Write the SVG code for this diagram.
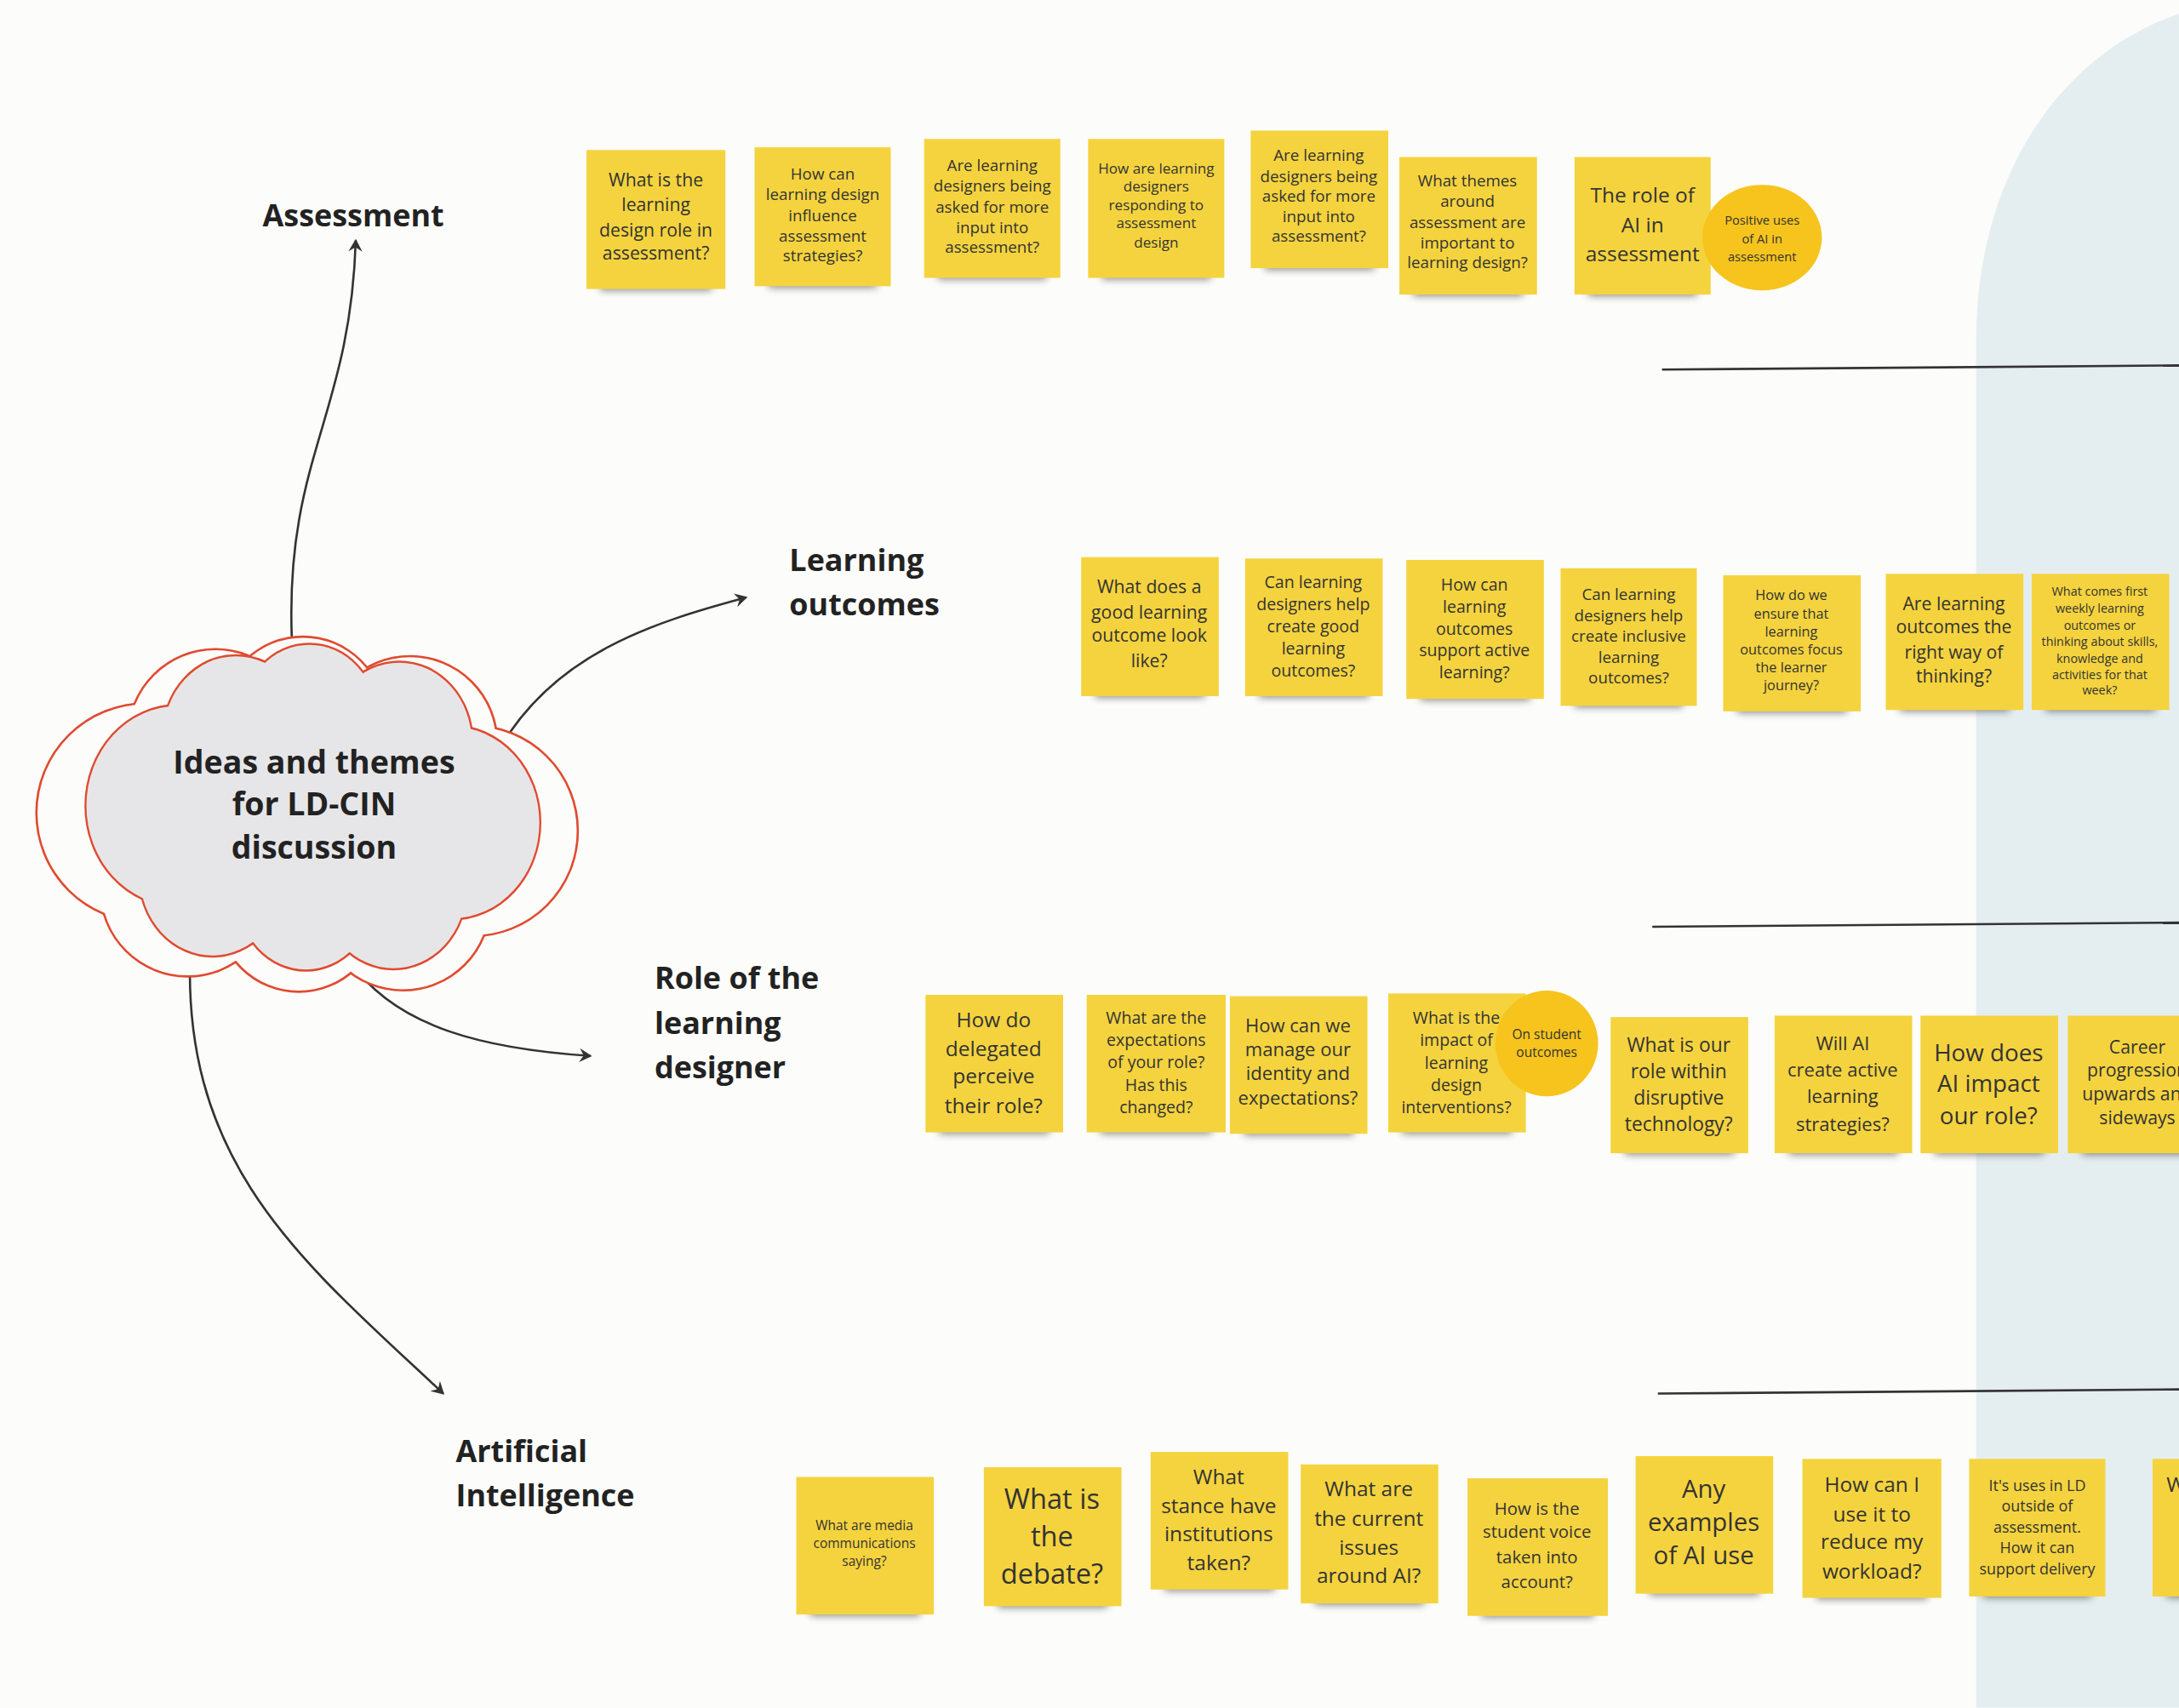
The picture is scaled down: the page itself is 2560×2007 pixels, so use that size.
<svg xmlns="http://www.w3.org/2000/svg" width="2560" height="2007" viewBox="0 0 2560 2007">
<style>
.st{fill:#f5d33e}
.sh{fill:#000;opacity:.45;filter:url(#bl)}
.t{font-family:"Open Sans","DejaVu Sans",sans-serif;fill:#333;text-anchor:middle}
.h{font-family:"Open Sans","DejaVu Sans",sans-serif;font-weight:bold;fill:#222;font-size:22px}
.ln{fill:none;stroke:#333;stroke-width:1.6}
.ar{fill:none;stroke:#333;stroke-width:1.6;marker-end:url(#ah)}
.co{fill:#f7c41d}
</style>
<defs>
<filter id="bl" x="-20%" y="-100%" width="140%" height="300%"><feGaussianBlur stdDeviation="3"/></filter>
<marker id="ah" markerWidth="10" markerHeight="10" refX="8" refY="5" orient="auto" markerUnits="userSpaceOnUse"><path d="M0,0 L9,5 L0,10 L3,5 Z" fill="#333"/></marker>
<g id="cl">
<circle cx="105" cy="585" r="78"/><circle cx="155" cy="530" r="62"/><circle cx="218" cy="517" r="58"/><circle cx="295" cy="535" r="62"/><circle cx="340" cy="598" r="75"/><circle cx="290" cy="650" r="62"/><circle cx="215" cy="655" r="58"/><circle cx="135" cy="640" r="62"/><circle cx="222" cy="585" r="110"/>
</g>
</defs>
<rect width="2560" height="2007" fill="#fcfcfa"/>
<g transform="scale(1.63265)">
<path d="M1568,10 C1480,40 1422,130 1422,245 L1422,1229 L1568,1229 Z" fill="#e4eef1"/>
<g id="connectors">
<path class="ln" d="M1196,266 L1568,263"/>
<path class="ln" d="M1189,667 L1568,664"/>
<path class="ln" d="M1193,1003 L1568,1000"/>
<path class="ar" d="M210,460 C205,330 252,300 256,173"/>
<path class="ar" d="M360,538 C400,470 470,448 537,430"/>
<path class="ar" d="M252,692 C285,740 350,755 425,760"/>
<path class="ar" d="M137,683 C130,840 220,910 319,1003"/>
</g>
<g id="cloud">
<g transform="translate(222,585) scale(1.0,1.0) translate(-222,-585)">
<use href="#cl" fill="none" stroke="#e04a2f" stroke-width="3.2"/>
<use href="#cl" fill="#fcfcfa"/>
</g>
<g transform="translate(226,580) scale(0.84,0.92) translate(-222,-585)">
<use href="#cl" fill="none" stroke="#e04a2f" stroke-width="3.4"/>
<use href="#cl" fill="#e6e6e8"/>
</g>
<text class="t" style="font-size:23px;font-weight:bold;fill:#222"><tspan x="226" y="557">Ideas and themes</tspan><tspan x="226" y="587">for LD-CIN</tspan><tspan x="226" y="618">discussion</tspan></text>
</g>
<g id="headings">
<text class="h" x="189" y="163">Assessment</text>
<text class="h"><tspan x="568" y="411">Learning</tspan><tspan x="568" y="443">outcomes</tspan></text>
<text class="h"><tspan x="471" y="712">Role of the</tspan><tspan x="471" y="744">learning</tspan><tspan x="471" y="776">designer</tspan></text>
<text class="h"><tspan x="328" y="1052">Artificial</tspan><tspan x="328" y="1084">Intelligence</tspan></text>
</g>
<!-- Row 1 -->
<g id="a1" transform="translate(422,108)"><rect class="sh" x="10" y="92" width="80" height="9"/><rect class="st" width="100" height="100"/><text class="t" style="font-size:13px"><tspan x="50" y="26">What is the</tspan><tspan x="50" y="44">learning</tspan><tspan x="50" y="62">design role in</tspan><tspan x="50" y="79">assessment?</tspan></text></g>
<g id="a2" transform="translate(543,106)"><rect class="sh" x="10" y="92" width="78" height="9"/><rect class="st" width="98" height="100"/><text class="t" style="font-size:11.5px"><tspan x="49" y="23">How can</tspan><tspan x="49" y="38">learning design</tspan><tspan x="49" y="53">influence</tspan><tspan x="49" y="68">assessment</tspan><tspan x="49" y="82">strategies?</tspan></text></g>
<g id="a3" transform="translate(665,100)"><rect class="sh" x="10" y="92" width="78" height="9"/><rect class="st" width="98" height="100"/><text class="t" style="font-size:11.5px"><tspan x="49" y="23">Are learning</tspan><tspan x="49" y="38">designers being</tspan><tspan x="49" y="53">asked for more</tspan><tspan x="49" y="68">input into</tspan><tspan x="49" y="82">assessment?</tspan></text></g>
<g id="a4" transform="translate(783,100)"><rect class="sh" x="10" y="92" width="78" height="9"/><rect class="st" width="98" height="100"/><text class="t" style="font-size:10.5px"><tspan x="49" y="25">How are learning</tspan><tspan x="49" y="38">designers</tspan><tspan x="49" y="51">responding to</tspan><tspan x="49" y="64">assessment</tspan><tspan x="49" y="78">design</tspan></text></g>
<g id="a5" transform="translate(900,94)"><rect class="sh" x="10" y="91" width="79" height="9"/><rect class="st" width="99" height="99"/><text class="t" style="font-size:11.5px"><tspan x="49" y="22">Are learning</tspan><tspan x="49" y="37">designers being</tspan><tspan x="49" y="51">asked for more</tspan><tspan x="49" y="66">input into</tspan><tspan x="49" y="80">assessment?</tspan></text></g>
<g id="a6" transform="translate(1007,113)"><rect class="sh" x="10" y="91" width="79" height="9"/><rect class="st" width="99" height="99"/><text class="t" style="font-size:11.5px"><tspan x="49" y="21">What themes</tspan><tspan x="49" y="36">around</tspan><tspan x="49" y="51">assessment are</tspan><tspan x="49" y="66">important to</tspan><tspan x="49" y="80">learning design?</tspan></text></g>
<g id="a7" transform="translate(1133,113)"><rect class="sh" x="10" y="91" width="78" height="9"/><rect class="st" width="98" height="99"/><text class="t" style="font-size:15px"><tspan x="49" y="33">The role of</tspan><tspan x="49" y="54">AI in</tspan><tspan x="49" y="75">assessment</tspan></text></g>
<g id="a8"><ellipse class="co" cx="1268" cy="171" rx="43" ry="38"/><text class="t" style="font-size:9px"><tspan x="1268" y="162">Positive uses</tspan><tspan x="1268" y="175">of AI in</tspan><tspan x="1268" y="188">assessment</tspan></text></g>
<!-- Row 2 -->
<g id="b1" transform="translate(778,401)"><rect class="sh" x="10" y="92" width="79" height="9"/><rect class="st" width="99" height="100"/><text class="t" style="font-size:13px"><tspan x="49" y="26">What does a</tspan><tspan x="49" y="44">good learning</tspan><tspan x="49" y="61">outcome look</tspan><tspan x="49" y="79">like?</tspan></text></g>
<g id="b2" transform="translate(896,402)"><rect class="sh" x="10" y="91" width="79" height="9"/><rect class="st" width="99" height="99"/><text class="t" style="font-size:12px"><tspan x="49" y="21">Can learning</tspan><tspan x="49" y="37">designers help</tspan><tspan x="49" y="53">create good</tspan><tspan x="49" y="69">learning</tspan><tspan x="49" y="85">outcomes?</tspan></text></g>
<g id="b3" transform="translate(1012,403)"><rect class="sh" x="10" y="92" width="79" height="9"/><rect class="st" width="99" height="100"/><text class="t" style="font-size:12px"><tspan x="49" y="22">How can</tspan><tspan x="49" y="38">learning</tspan><tspan x="49" y="54">outcomes</tspan><tspan x="49" y="69">support active</tspan><tspan x="49" y="85">learning?</tspan></text></g>
<g id="b4" transform="translate(1123,409)"><rect class="sh" x="10" y="91" width="78" height="9"/><rect class="st" width="98" height="99"/><text class="t" style="font-size:11.5px"><tspan x="49" y="23">Can learning</tspan><tspan x="49" y="38">designers help</tspan><tspan x="49" y="53">create inclusive</tspan><tspan x="49" y="68">learning</tspan><tspan x="49" y="83">outcomes?</tspan></text></g>
<g id="b5" transform="translate(1240,414)"><rect class="sh" x="10" y="90" width="79" height="9"/><rect class="st" width="99" height="98"/><text class="t" style="font-size:10px"><tspan x="49" y="18">How do we</tspan><tspan x="49" y="31">ensure that</tspan><tspan x="49" y="44">learning</tspan><tspan x="49" y="57">outcomes focus</tspan><tspan x="49" y="70">the learner</tspan><tspan x="49" y="83">journey?</tspan></text></g>
<g id="b6" transform="translate(1357,413)"><rect class="sh" x="10" y="90" width="79" height="9"/><rect class="st" width="99" height="98"/><text class="t" style="font-size:13px"><tspan x="49" y="26">Are learning</tspan><tspan x="49" y="43">outcomes the</tspan><tspan x="49" y="61">right way of</tspan><tspan x="49" y="78">thinking?</tspan></text></g>
<g id="b7" transform="translate(1462,413)"><rect class="sh" x="10" y="90" width="79" height="9"/><rect class="st" width="99" height="98"/><text class="t" style="font-size:8.8px"><tspan x="49" y="16">What comes first</tspan><tspan x="49" y="28">weekly learning</tspan><tspan x="49" y="40">outcomes or</tspan><tspan x="49" y="52">thinking about skills,</tspan><tspan x="49" y="64">knowledge and</tspan><tspan x="49" y="76">activities for that</tspan><tspan x="49" y="87">week?</tspan></text></g>
<!-- Row 3 -->
<g id="c1" transform="translate(666,716)"><rect class="sh" x="10" y="91" width="79" height="9"/><rect class="st" width="99" height="99"/><text class="t" style="font-size:15px"><tspan x="49" y="23">How do</tspan><tspan x="49" y="44">delegated</tspan><tspan x="49" y="64">perceive</tspan><tspan x="49" y="85">their role?</tspan></text></g>
<g id="c2" transform="translate(782,716)"><rect class="sh" x="10" y="91" width="80" height="9"/><rect class="st" width="100" height="99"/><text class="t" style="font-size:12px"><tspan x="50" y="21">What are the</tspan><tspan x="50" y="37">expectations</tspan><tspan x="50" y="53">of your role?</tspan><tspan x="50" y="69">Has this</tspan><tspan x="50" y="85">changed?</tspan></text></g>
<g id="c3" transform="translate(885,717)"><rect class="sh" x="10" y="91" width="79" height="9"/><rect class="st" width="99" height="99"/><text class="t" style="font-size:13.5px"><tspan x="49" y="26">How can we</tspan><tspan x="49" y="43">manage our</tspan><tspan x="49" y="60">identity and</tspan><tspan x="49" y="78">expectations?</tspan></text></g>
<g id="c4" transform="translate(999,715)"><rect class="sh" x="10" y="92" width="79" height="9"/><rect class="st" width="99" height="100"/><text class="t" style="font-size:12px"><tspan x="49" y="22">What is the</tspan><tspan x="49" y="38">impact of</tspan><tspan x="49" y="54">learning</tspan><tspan x="49" y="70">design</tspan><tspan x="49" y="86">interventions?</tspan></text></g>
<g id="c5"><ellipse class="co" cx="1113" cy="751" rx="37" ry="38"/><text class="t" style="font-size:9.5px"><tspan x="1113" y="748">On student</tspan><tspan x="1113" y="761">outcomes</tspan></text></g>
<g id="c6" transform="translate(1159,732)"><rect class="sh" x="10" y="90" width="79" height="9"/><rect class="st" width="99" height="98"/><text class="t" style="font-size:14px"><tspan x="49" y="25">What is our</tspan><tspan x="49" y="44">role within</tspan><tspan x="49" y="63">disruptive</tspan><tspan x="49" y="82">technology?</tspan></text></g>
<g id="c7" transform="translate(1277,731)"><rect class="sh" x="10" y="91" width="79" height="9"/><rect class="st" width="99" height="99"/><text class="t" style="font-size:13.5px"><tspan x="49" y="25">Will AI</tspan><tspan x="49" y="44">create active</tspan><tspan x="49" y="63">learning</tspan><tspan x="49" y="83">strategies?</tspan></text></g>
<g id="c8" transform="translate(1382,731)"><rect class="sh" x="10" y="91" width="79" height="9"/><rect class="st" width="99" height="99"/><text class="t" style="font-size:17px"><tspan x="49" y="33">How does</tspan><tspan x="49" y="55">AI impact</tspan><tspan x="49" y="78">our role?</tspan></text></g>
<g id="c9" transform="translate(1488,731)"><rect class="sh" x="10" y="91" width="79" height="9"/><rect class="st" width="99" height="99"/><text class="t" style="font-size:13px"><tspan x="50" y="27">Career</tspan><tspan x="50" y="44">progression</tspan><tspan x="50" y="61">upwards and</tspan><tspan x="50" y="78">sideways</tspan></text></g>
<!-- Row 4 -->
<g id="d1" transform="translate(573,1063)"><rect class="sh" x="10" y="91" width="79" height="9"/><rect class="st" width="99" height="99"/><text class="t" style="font-size:9.5px"><tspan x="49" y="38">What are media</tspan><tspan x="49" y="51">communications</tspan><tspan x="49" y="64">saying?</tspan></text></g>
<g id="d2" transform="translate(708,1056)"><rect class="sh" x="10" y="92" width="79" height="9"/><rect class="st" width="99" height="100"/><text class="t" style="font-size:20px"><tspan x="49" y="30">What is</tspan><tspan x="49" y="57">the</tspan><tspan x="49" y="84">debate?</tspan></text></g>
<g id="d3" transform="translate(828,1045)"><rect class="sh" x="10" y="91" width="79" height="9"/><rect class="st" width="99" height="99"/><text class="t" style="font-size:15px"><tspan x="49" y="23">What</tspan><tspan x="49" y="44">stance have</tspan><tspan x="49" y="64">institutions</tspan><tspan x="49" y="85">taken?</tspan></text></g>
<g id="d4" transform="translate(936,1054)"><rect class="sh" x="10" y="92" width="79" height="9"/><rect class="st" width="99" height="100"/><text class="t" style="font-size:15px"><tspan x="49" y="23">What are</tspan><tspan x="49" y="44">the current</tspan><tspan x="49" y="65">issues</tspan><tspan x="49" y="85">around AI?</tspan></text></g>
<g id="d5" transform="translate(1056,1064)"><rect class="sh" x="10" y="91" width="81" height="9"/><rect class="st" width="101" height="99"/><text class="t" style="font-size:12.5px"><tspan x="50" y="26">How is the</tspan><tspan x="50" y="43">student voice</tspan><tspan x="50" y="61">taken into</tspan><tspan x="50" y="79">account?</tspan></text></g>
<g id="d6" transform="translate(1177,1048)"><rect class="sh" x="10" y="91" width="79" height="9"/><rect class="st" width="99" height="99"/><text class="t" style="font-size:18px"><tspan x="49" y="30">Any</tspan><tspan x="49" y="54">examples</tspan><tspan x="49" y="78">of AI use</tspan></text></g>
<g id="d7" transform="translate(1297,1050)"><rect class="sh" x="10" y="92" width="80" height="9"/><rect class="st" width="100" height="100"/><text class="t" style="font-size:15px"><tspan x="50" y="24">How can I</tspan><tspan x="50" y="45">use it to</tspan><tspan x="50" y="65">reduce my</tspan><tspan x="50" y="86">workload?</tspan></text></g>
<g id="d8" transform="translate(1417,1050)"><rect class="sh" x="10" y="91" width="78" height="9"/><rect class="st" width="98" height="99"/><text class="t" style="font-size:11px"><tspan x="49" y="23">It's uses in LD</tspan><tspan x="49" y="38">outside of</tspan><tspan x="49" y="53">assessment.</tspan><tspan x="49" y="68">How it can</tspan><tspan x="49" y="83">support delivery</tspan></text></g>
<g id="d9" transform="translate(1549,1050)"><rect class="sh" x="10" y="91" width="79" height="9"/><rect class="st" width="99" height="99"/><text class="t" style="font-size:15px;text-anchor:start"><tspan x="10" y="24">W</tspan></text></g>
</g>
</svg>
